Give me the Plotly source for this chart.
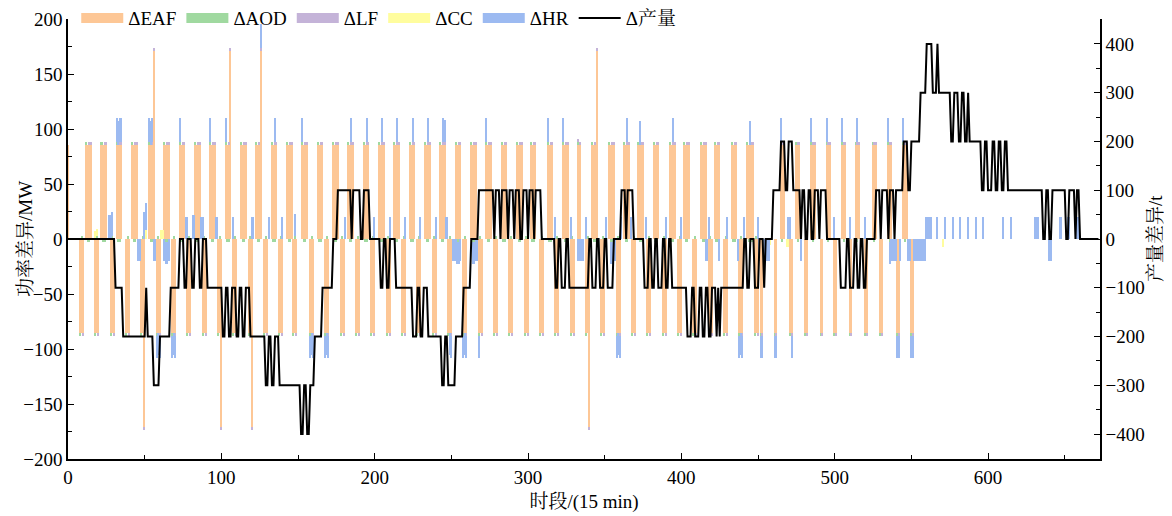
import plotly.graph_objects as go

N_PERIODS = 673
PERIODS = list(range(N_PERIODS))

# ---- EAF power difference (MW): blocks of (start period, length) ----
EAF_LEVEL = 85.5
EAF_UP = [(0, 1), (12, 4), (22, 4), (32, 4), (42, 4), (53, 4), (63, 4), (73, 4), (83, 4), (93, 4),
          (103, 4), (113, 4), (123, 4), (133, 4), (143, 4), (153, 4), (163, 4), (173, 4), (183, 4),
          (193, 4), (203, 4), (213, 4), (223, 4), (233, 4), (243, 4), (253, 4), (263, 4), (273, 4),
          (283, 4), (293, 4), (302, 4), (313, 4), (323, 4), (333, 2), (342, 4), (353, 4), (363, 4),
          (372, 4), (382, 4), (393, 4), (402, 4), (413, 4), (422, 4), (433, 4), (443, 5), (465, 3),
          (475, 3), (485, 3), (495, 3), (505, 3), (514, 3), (525, 3), (535, 3), (545, 3)]
EAF_DOWN = [(8, 3), (18, 3), (28, 3), (38, 3), (48, 3), (58, 3), (68, 3), (78, 3), (88, 3), (98, 3),
            (108, 3), (118, 3), (128, 3), (138, 3), (147, 3), (158, 3), (168, 3), (178, 3), (188, 3),
            (198, 3), (208, 3), (218, 3), (228, 3), (238, 3), (248, 3), (258, 3), (268, 3), (278, 3),
            (288, 3), (298, 3), (308, 3), (318, 3), (328, 3), (338, 3), (348, 3), (358, 3), (368, 3),
            (378, 3), (388, 3), (398, 3), (408, 3), (418, 3), (428, 3), (438, 3), (448, 3), (452, 2),
            (461, 2), (471, 2), (481, 2), (491, 2), (500, 2), (510, 2), (520, 2), (530, 2), (541, 2),
            (550, 2)]
EAF_SPIKES = [(50, -171), (56, 171), (100, -171), (106, 171), (120, -171), (126, 171),
              (340, -171), (345, 171)]

# ---- AOD / LF small differences (MW) ----
AOD_LEVEL = 2.5
LF_LEVEL = 2.5

# ---- CC differences: (start, end, MW) ----
CC_SEGS = [(18, 19, 7), (51, 51, 8), (61, 62, 8), (458, 458, -5), (469, 470, -7), (571, 571, -7)]

# ---- HR differences: (start, end, MW) ----
HR_SEGS = [(27, 29, 22), (32, 35, 22), (50, 51, 25), (53, 55, 22), (73, 73, 22), (77, 78, 20),
           (82, 82, 22), (87, 88, 20), (93, 93, 22), (97, 97, 20), (103, 103, 22), (108, 108, 20),
           (120, 121, 20), (126, 126, 22), (131, 131, 20), (135, 135, 22), (140, 140, 20),
           (148, 148, 20), (153, 153, 22), (181, 181, 20), (185, 185, 22), (195, 195, 22),
           (200, 200, 20), (205, 205, 22), (210, 210, 20), (215, 215, 22), (220, 220, 20),
           (225, 225, 22), (230, 230, 20), (235, 235, 22), (240, 240, 20), (245, 245, 22),
           (246, 247, 20), (273, 273, 22), (313, 313, 22), (318, 318, 20), (323, 323, 22),
           (328, 328, 20), (338, 338, 20), (351, 351, 20), (361, 361, 20), (365, 365, 22),
           (367, 367, 20), (373, 373, 22), (377, 377, 20), (390, 390, 20), (395, 395, 22),
           (400, 400, 20), (418, 418, 20), (430, 430, 20), (441, 441, 20), (445, 445, 22),
           (450, 450, 20), (465, 465, 22), (470, 471, 20), (485, 485, 22), (495, 495, 22),
           (500, 500, 20), (505, 505, 22), (510, 510, 20), (515, 515, 22), (520, 520, 20),
           (535, 535, 22), (545, 545, 22), (560, 563, 20), (567, 567, 20), (572, 572, 20),
           (577, 577, 20), (582, 582, 20), (587, 587, 20), (592, 592, 20), (597, 597, 20),
           (610, 610, 20), (615, 615, 20), (631, 633, 20), (647, 648, 20), (652, 653, 20),
           (658, 659, 20),
           (46, 47, -20), (56, 60, -20), (63, 66, -20), (68, 70, -20), (158, 160, -20),
           (168, 170, -20), (249, 256, -20), (258, 260, -20), (264, 268, -20), (333, 336, -20),
           (354, 360, -20), (416, 417, -20), (425, 425, -20), (437, 440, -20), (451, 454, -20),
           (456, 457, -20), (461, 462, -20), (472, 472, -20), (478, 478, -20), (536, 543, -20),
           (548, 559, -20), (640, 641, -20)]

# ---- production difference (t): (period where the level starts, level) ----
PROD_STEPS = [(0, 0), (31, -100), (36, -200), (51, -100), (52, -200), (56, -300), (60, -200),
              (67, -100), (73, 0), (76, -100), (78, 0), (81, -100), (83, 0), (86, -100), (88, 0),
              (91, -100), (101, -200), (103, -100), (105, -200), (107, -100), (110, -200),
              (112, -100), (114, -200), (116, -100), (119, -200), (129, -300), (131, -200),
              (133, -300), (135, -200), (138, -300), (152, -400), (154, -300), (156, -400),
              (158, -300), (161, -200), (166, -100), (173, 0), (176, 100), (185, 0), (186, 100),
              (191, 0), (193, 100), (197, 0), (204, -100), (206, 0), (208, -100), (210, 0),
              (214, -100), (225, -200), (228, -100), (230, -200), (232, -100), (235, -200),
              (244, -300), (246, -200), (248, -300), (253, -200), (258, -100), (263, 0), (268, 100),
              (278, 0), (279, 100), (282, 0), (283, 100), (287, 0), (288, 100), (291, 0),
              (292, 100), (295, 0), (297, 100), (300, 0), (301, 100), (304, 0), (305, 100),
              (309, 0), (318, -100), (320, 0), (322, -100), (325, 0), (327, -100), (340, 0),
              (342, -100), (345, 0), (347, -100), (350, 0), (352, -100), (356, 0), (361, 100),
              (364, 0), (365, 100), (369, 0), (376, -100), (379, 0), (381, -100), (383, 0),
              (385, -100), (388, 0), (390, -100), (392, 0), (394, -100), (404, -200), (407, -100),
              (409, -200), (412, -100), (414, -200), (416, -100), (418, -200), (420, -100),
              (423, -200), (424, -100), (425, -200), (426, -100), (441, 0), (443, -100), (445, 0),
              (448, -100), (451, 0), (454, -100), (455, 0), (460, 100), (465, 200), (468, 100),
              (470, 200), (473, 100), (478, 0), (479, 100), (481, 0), (483, 100), (485, 0),
              (487, 100), (490, 0), (491, 100), (495, 0), (504, -100), (508, 0), (510, -100),
              (513, 0), (515, -100), (517, 0), (519, -100), (521, 0), (527, 100), (530, 0),
              (531, 100), (535, 0), (536, 100), (539, 0), (540, 100), (545, 200), (548, 100),
              (550, 200), (556, 300), (560, 400), (564, 300), (567, 400), (568, 300), (576, 200),
              (578, 300), (581, 200), (583, 300), (585, 200), (587, 300), (588, 200), (596, 100),
              (598, 200), (600, 100), (603, 200), (605, 100), (607, 200), (609, 100), (611, 200),
              (613, 100), (636, 0), (638, 100), (640, 0), (642, 100), (651, 0), (653, 100),
              (657, 0), (658, 100), (660, 0)]

SERIES_NAMES = ["ΔEAF", "ΔAOD", "ΔLF", "ΔCC", "ΔHR", "Δ产量"]
COLORS = ["#FDC796", "#A0D9A0", "#C4B3D8", "#FFFD9E", "#9CBAF1", "#000000"]
X_TITLE = "时段/(15 min)"
Y_TITLE = "功率差异/MW"
Y2_TITLE = "产量差异/t"

# ---- build per-period series ----
eaf = [0.0] * N_PERIODS
aod = [0.0] * N_PERIODS
lf = [0.0] * N_PERIODS
cc = [0.0] * N_PERIODS
hr = [0.0] * N_PERIODS

for s, n in EAF_UP:
    for i in range(s, s + n):
        eaf[i] = EAF_LEVEL
    if n > 1:
        aod[s] = AOD_LEVEL
        lf[s + n - 1] = LF_LEVEL
        lf[s + n - 2] = LF_LEVEL
        for i in range(s + 1, s + n - 1):
            aod[i] = -AOD_LEVEL
for s, n in EAF_DOWN:
    for i in range(s, s + n):
        eaf[i] = -EAF_LEVEL
    aod[s] = -AOD_LEVEL
    lf[s + n - 1] = -LF_LEVEL
    for i in range(s + 1, s + n):
        if i != s + n - 1:
            aod[i] = AOD_LEVEL
for p, v in EAF_SPIKES:
    eaf[p] = v
for a, b, v in CC_SEGS:
    for i in range(a, b + 1):
        cc[i] = v
for a, b, v in HR_SEGS:
    for i in range(a, b + 1):
        hr[i] = v

prod = [0] * N_PERIODS
for k, (s, v) in enumerate(PROD_STEPS):
    e = PROD_STEPS[k + 1][0] if k + 1 < len(PROD_STEPS) else N_PERIODS
    for i in range(s, e):
        prod[i] = v

FONT = "Liberation Serif, 'Noto Serif CJK SC', 'Noto Sans CJK SC', serif"

fig = go.Figure()
for name, col, vals in zip(SERIES_NAMES[:5], COLORS[:5], [eaf, aod, lf, cc, hr]):
    fig.add_trace(go.Bar(x=PERIODS, y=vals, name=name, marker=dict(color=col, line=dict(width=0)),
                         width=1.0, showlegend=False, yaxis="y"))
fig.add_trace(go.Scatter(x=PERIODS, y=prod, name=SERIES_NAMES[5], mode="lines",
                         line=dict(color="black", width=2), yaxis="y2", showlegend=False))

# legend entries
for name, col in zip(SERIES_NAMES[:5], COLORS[:5]):
    fig.add_trace(go.Scatter(x=[None], y=[None], mode="lines", name=name,
                             line=dict(color=col, width=20), showlegend=True))
fig.add_trace(go.Scatter(x=[None], y=[None], mode="lines", name=SERIES_NAMES[5],
                         line=dict(color="black", width=2), showlegend=True))

# page body adds an 8px offset; figure is sized so the plot area lands at 68..1100 x 19..459
fig.update_layout(
    width=1164, height=508,
    margin=dict(l=60, r=72, t=11, b=57, autoexpand=False),
    paper_bgcolor="white", plot_bgcolor="white",
    barmode="relative", bargap=0,
    font=dict(family=FONT, size=19, color="black"),
    showlegend=True,
    legend=dict(orientation="h", x=0.008, y=1.045, xanchor="left", yanchor="top",
                bgcolor="rgba(0,0,0,0)", font=dict(size=19, family=FONT),
                itemwidth=42, traceorder="normal", tracegroupgap=0),
    xaxis=dict(range=[0, 673], tickmode="linear", tick0=0, dtick=100, ticks="inside",
               ticklen=6, tickcolor="black", showline=True, linecolor="black", linewidth=1.5,
               showgrid=False, zeroline=False, mirror=False, automargin=False,
               minor=dict(tick0=0, dtick=50, ticks="inside", ticklen=4, tickcolor="black"),
               title=dict(text=X_TITLE, font=dict(size=19), standoff=8),
               tickfont=dict(size=19)),
    yaxis=dict(range=[-200, 200], tickmode="linear", tick0=-200, dtick=50, ticks="inside",
               ticklen=6, tickcolor="black", showline=True, linecolor="black", linewidth=1.5,
               showgrid=False, zeroline=False, automargin=False,
               minor=dict(dtick=25, ticks="inside", ticklen=4, tickcolor="black"),
               tickfont=dict(size=19)),
    yaxis2=dict(range=[-451, 451], overlaying="y", side="right", tickmode="linear", tick0=-400,
                dtick=100, ticks="inside", ticklen=6, tickcolor="black", showline=True,
                linecolor="black", linewidth=1.5, showgrid=False, zeroline=False,
                automargin=False,
                minor=dict(dtick=50, ticks="inside", ticklen=4, tickcolor="black"),
                tickfont=dict(size=19)),
    annotations=[
        dict(text=Y_TITLE, xref="paper", yref="paper", x=-0.0417, y=0.5, textangle=-90,
             showarrow=False, xanchor="center", yanchor="middle", font=dict(size=19)),
        dict(text=Y2_TITLE, xref="paper", yref="paper", x=1.0533, y=0.5, textangle=-90,
             showarrow=False, xanchor="center", yanchor="middle", font=dict(size=19)),
    ],
)

fig.write_html("out.html")
